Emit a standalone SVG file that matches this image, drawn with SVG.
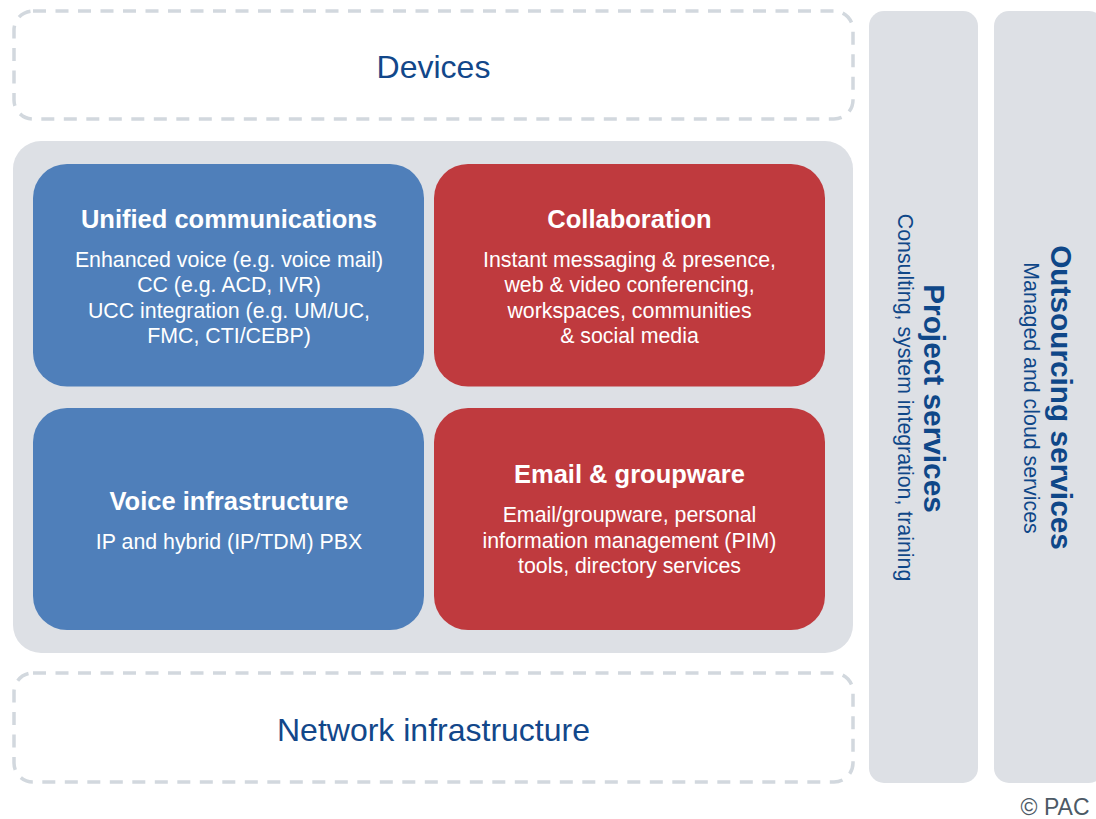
<svg xmlns="http://www.w3.org/2000/svg" width="1096" height="819" viewBox="0 0 1096 819">
<style>
.dash{fill:none;stroke:#d2d8de;stroke-width:3.5;stroke-dasharray:13 9.5}
.panel{fill:#dde0e5}
.blue{fill:#4f7fba}
.red{fill:#bf3a3e}
text{font-family:"Liberation Sans",Arial,sans-serif}
.layer{font-size:32px;fill:#12478a;text-anchor:middle}
.ttl{font-size:25.5px;font-weight:bold;fill:#ffffff;text-anchor:middle}
.body{font-size:21.33px;fill:#ffffff;text-anchor:middle}
.vt{font-size:29.8px;font-weight:bold;fill:#0f4788;text-anchor:middle}
.vs{font-size:21.33px;fill:#0f4788;text-anchor:middle}
.copy{font-size:23px;fill:#4d5a66;text-anchor:end}
</style>
<rect width="1096" height="819" fill="#ffffff"/>
<g id="devices">
<rect class="dash" x="14" y="11" width="839" height="108" rx="19"/>
<text class="layer" x="433.5" y="78">Devices</text>
</g>
<g id="core">
<rect class="panel" x="13" y="141" width="840" height="512" rx="28"/>
</g>
<g id="unified-communications">
<rect class="blue" x="33" y="164" width="391" height="222.5" rx="34"/>
<text class="ttl" x="229" y="227.7">Unified communications</text>
<text class="body" x="229" y="266.7">Enhanced voice (e.g. voice mail)</text>
<text class="body" x="229" y="292.2">CC (e.g. ACD, IVR)</text>
<text class="body" x="229" y="317.7">UCC integration (e.g. UM/UC,</text>
<text class="body" x="229" y="343.3">FMC, CTI/CEBP)</text>
</g>
<g id="collaboration">
<rect class="red" x="434" y="164" width="391" height="222.5" rx="34"/>
<text class="ttl" x="629.5" y="227.7">Collaboration</text>
<text class="body" x="629.5" y="266.7">Instant messaging &amp; presence,</text>
<text class="body" x="629.5" y="292.2">web &amp; video conferencing,</text>
<text class="body" x="629.5" y="317.7">workspaces, communities</text>
<text class="body" x="629.5" y="343.3">&amp; social media</text>
</g>
<g id="voice-infrastructure">
<rect class="blue" x="33" y="408" width="391" height="222" rx="34"/>
<text class="ttl" x="229" y="510">Voice infrastructure</text>
<text class="body" x="229" y="549">IP and hybrid (IP/TDM) PBX</text>
</g>
<g id="email-groupware">
<rect class="red" x="434" y="408" width="391" height="222" rx="34"/>
<text class="ttl" x="629.5" y="482.7">Email &amp; groupware</text>
<text class="body" x="629.5" y="522">Email/groupware, personal</text>
<text class="body" x="629.5" y="547.6">information management (PIM)</text>
<text class="body" x="629.5" y="573.2">tools, directory services</text>
</g>
<g id="network-infrastructure">
<rect class="dash" x="14" y="673" width="839" height="109" rx="19"/>
<text class="layer" x="433.5" y="741">Network infrastructure</text>
</g>
<g id="project-services">
<rect class="panel" x="869" y="11" width="109" height="772" rx="15"/>
<text class="vt" transform="translate(924,398.5) rotate(90)">Project services</text>
<text class="vs" transform="translate(897.7,397.5) rotate(90)">Consulting, system integration, training</text>
</g>
<g id="outsourcing-services">
<rect class="panel" x="994" y="11" width="110" height="772" rx="15"/>
<text class="vt" transform="translate(1050.5,397.5) rotate(90)">Outsourcing services</text>
<text class="vs" transform="translate(1024.3,398) rotate(90)">Managed and cloud services</text>
</g>
<g id="connectors"></g>
<text class="copy" x="1089.5" y="815">© PAC</text>
</svg>
